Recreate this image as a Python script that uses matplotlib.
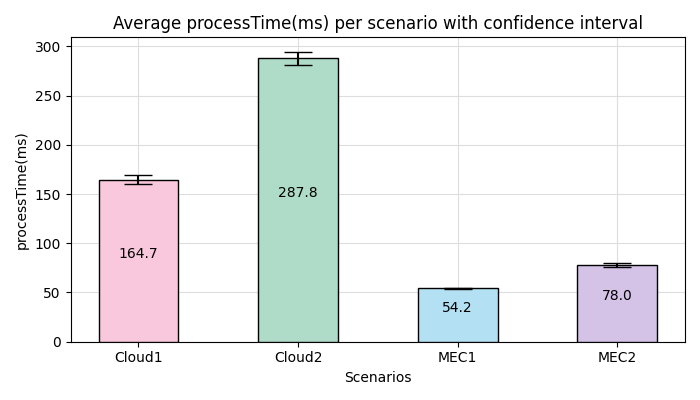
import matplotlib.pyplot as plt

scenarios = ['Cloud1', 'Cloud2', 'MEC1', 'MEC2']
mean_time = [164.7, 287.8, 54.2, 78.0]
ci = [4.7, 6.6, 0.6, 2.0]
colors = ['#F9C8DC', '#AEDCC8', '#B3E0F2', '#D4C2E7']

fig, ax = plt.subplots(figsize=(7, 4), dpi=100)
ax.grid(True, color='#dddddd', linewidth=0.8, zorder=0)
ax.set_axisbelow(True)
bars = ax.bar(scenarios, mean_time, width=0.5, color=colors, edgecolor='black',
              yerr=ci, capsize=10, zorder=3)

for bar, val in zip(bars, mean_time):
    ax.text(bar.get_x() + bar.get_width() / 2, val / 2, f'{val:.1f}',
            ha='center', va='bottom', fontsize=10, zorder=4)

ax.set_title('Average processTime(ms) per scenario with confidence interval', fontsize=12)
ax.set_xlabel('Scenarios')
ax.set_ylabel('processTime(ms)')
fig.tight_layout()
fig.savefig('out.png')
